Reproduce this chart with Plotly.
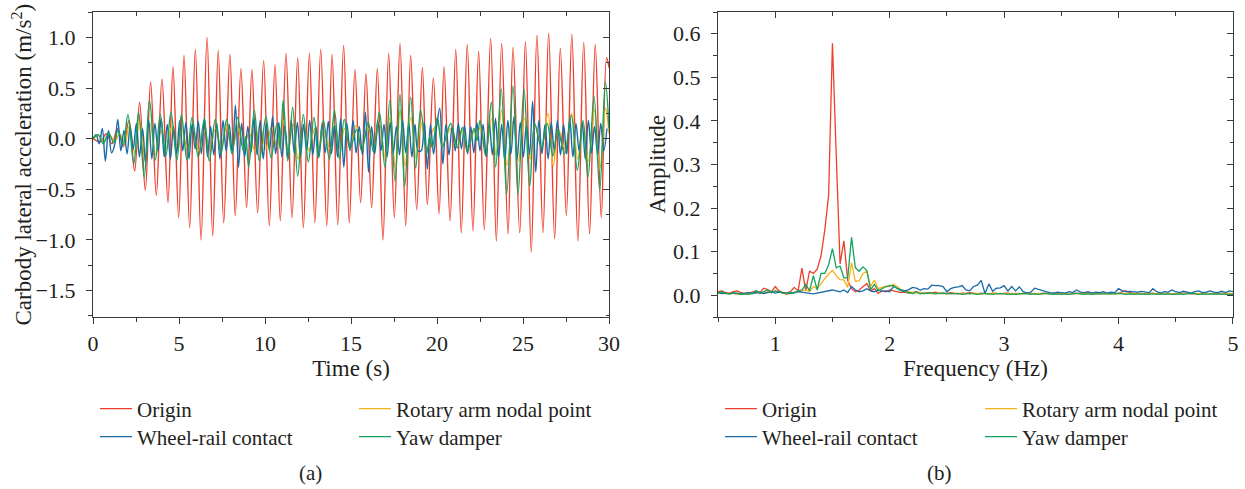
import plotly.graph_objects as go

# ---------------- (a) time histories: extreme points ----------------
origin_pts = [
    (0.00, 0.00), (0.44, -0.03), (0.77, 0.05), (1.10, -0.05), (1.43, 0.10), (1.76, -0.08),
    (2.09, 0.18), (2.42, -0.32), (2.71, 0.36), (3.04, -0.51), (3.35, 0.56), (3.68, -0.56),
    (4.01, 0.59), (4.36, -0.63), (4.65, 0.71), (4.98, -0.78), (5.29, 0.82), (5.62, -0.88),
    (5.95, 0.88), (6.28, -1.00), (6.63, 1.00), (6.96, -0.96), (7.28, 0.87), (7.60, -0.83),
    (7.96, 0.83), (8.27, -0.76), (8.60, 0.69), (8.93, -0.68), (9.24, 0.68), (9.57, -0.73),
    (9.92, 0.77), (10.25, -0.86), (10.58, 0.73), (10.89, -0.81), (11.22, 0.84), (11.57, -0.78),
    (11.90, 0.80), (12.23, -0.88), (12.58, 0.84), (12.90, -0.83), (13.24, 0.88), (13.59, -0.86),
    (13.90, 0.83), (14.23, -0.85), (14.57, 0.92), (14.90, -0.83), (15.23, 0.68), (15.56, -0.63),
    (15.87, 0.64), (16.20, -0.68), (16.53, 0.69), (16.86, -1.00), (17.19, 0.84), (17.52, -0.78),
    (17.85, 0.94), (18.18, -0.86), (18.47, 0.82), (18.82, -0.70), (19.15, 0.70), (19.44, -0.65),
    (19.79, 0.60), (20.12, -0.74), (20.41, 0.71), (20.76, -0.81), (21.09, 0.88), (21.41, -0.93),
    (21.76, 0.93), (22.09, -0.91), (22.42, 0.86), (22.75, -0.90), (23.12, 0.99), (23.45, -1.01),
    (23.76, 0.94), (24.13, -0.94), (24.42, 0.90), (24.81, -0.93), (25.14, 0.96), (25.48, -1.12),
    (25.81, 1.02), (26.16, -0.93), (26.49, 1.04), (26.84, -0.99), (27.17, 0.89), (27.52, -0.76),
    (27.84, 1.03), (28.19, -1.01), (28.53, 0.95), (28.87, -0.94), (29.20, 0.93), (29.55, -0.78),
    (29.86, 0.80), (30.00, 0.70),
]

yaw_pts = [
    (0.00, 0.00), (0.30, 0.04), (0.60, -0.05), (0.90, 0.06), (1.20, -0.04), (1.45, 0.08),
    (1.75, -0.06), (2.03, 0.24), (2.37, -0.25), (2.65, 0.26), (2.98, -0.38), (3.28, 0.38),
    (3.63, -0.21), (3.91, 0.24), (4.24, -0.17), (4.53, 0.26), (4.88, -0.21), (5.14, 0.24),
    (5.46, -0.21), (5.76, 0.21), (6.12, -0.18), (6.47, 0.19), (6.76, -0.22), (7.11, 0.19),
    (7.44, -0.15), (7.77, 0.19), (8.08, -0.15), (8.41, 0.21), (8.73, -0.12), (8.88, 0.02),
    (9.05, -0.28), (9.38, 0.28), (9.67, -0.22), (10.06, 0.22), (10.35, -0.19), (10.70, 0.15),
    (10.88, -0.10), (11.06, 0.38), (11.32, -0.22), (11.61, 0.31), (11.90, -0.37), (12.23, 0.24),
    (12.52, -0.23), (12.85, 0.21), (13.10, -0.19), (13.39, 0.18), (13.74, -0.20), (14.04, 0.28),
    (14.32, -0.20), (14.61, 0.19), (14.94, -0.10), (15.33, 0.09), (15.62, -0.12), (16.00, 0.16),
    (16.30, -0.13), (16.65, 0.26), (16.97, -0.28), (17.26, 0.38), (17.56, -0.42), (17.85, 0.44),
    (18.12, -0.47), (18.47, 0.41), (18.76, -0.29), (19.05, 0.28), (19.40, -0.15), (19.58, 0.02),
    (19.73, -0.09), (20.02, 0.21), (20.31, -0.08), (20.80, 0.15), (21.18, -0.09), (21.47, 0.11),
    (21.76, -0.13), (22.15, 0.10), (22.32, -0.02), (22.50, 0.18), (22.83, -0.17), (23.16, 0.36),
    (23.41, -0.28), (23.74, 0.49), (24.05, -0.55), (24.42, 0.52), (24.71, -0.55), (25.06, 0.49),
    (25.39, -0.47), (25.68, 0.15), (26.07, -0.09), (26.41, 0.15), (26.74, -0.17), (27.03, 0.08),
    (27.42, -0.15), (27.81, 0.23), (28.16, -0.31), (28.49, 0.18), (28.78, -0.38), (29.13, 0.42),
    (29.46, -0.51), (29.79, 0.56), (30.00, 0.10),
]

rotary_pts = [
    (0.00, 0.00), (0.35, 0.03), (0.65, -0.03), (0.95, 0.04), (1.25, -0.03), (1.55, 0.05),
    (1.85, -0.05), (2.10, 0.12), (2.42, -0.14), (2.70, 0.19), (3.02, -0.21), (3.32, 0.15),
    (3.65, -0.16), (3.95, 0.08), (4.25, -0.10), (4.57, 0.12), (4.90, -0.12), (5.18, 0.08),
    (5.50, -0.10), (5.80, 0.10), (6.15, -0.12), (6.48, 0.08), (6.80, -0.10), (7.12, 0.10),
    (7.45, -0.08), (7.78, 0.12), (8.10, -0.10), (8.42, 0.10), (8.75, -0.08), (9.08, 0.06),
    (9.40, -0.12), (9.70, 0.13), (10.05, -0.10), (10.38, 0.12), (10.70, -0.08), (11.05, 0.18),
    (11.35, -0.12), (11.63, 0.15), (11.92, -0.20), (12.25, 0.12), (12.55, -0.12), (12.88, 0.10),
    (13.15, -0.10), (13.42, 0.08), (13.76, -0.10), (14.06, 0.14), (14.35, -0.10), (14.63, 0.10),
    (14.96, -0.06), (15.30, 0.13), (15.62, -0.08), (16.00, 0.10), (16.32, -0.08), (16.66, 0.15),
    (16.98, -0.18), (17.28, 0.22), (17.58, -0.30), (17.86, 0.28), (18.14, -0.26), (18.48, 0.21),
    (18.78, -0.19), (19.07, 0.16), (19.40, -0.10), (19.75, 0.08), (20.05, 0.14), (20.33, -0.06),
    (20.80, 0.10), (21.18, -0.06), (21.48, 0.08), (21.78, -0.08), (22.15, 0.07), (22.50, 0.10),
    (22.85, -0.10), (23.18, 0.20), (23.43, -0.16), (23.76, 0.28), (24.07, -0.26), (24.44, 0.18),
    (24.73, -0.22), (25.08, 0.20), (25.41, -0.20), (25.70, 0.12), (26.08, -0.08), (26.45, 0.25),
    (26.76, -0.27), (27.05, 0.10), (27.44, -0.10), (27.83, 0.25), (28.18, -0.20), (28.50, 0.14),
    (28.80, -0.22), (29.15, 0.28), (29.47, -0.30), (29.80, 0.30), (30.00, 0.05),
]

wheel_step = 0.18
wheel_v = [
    0.00, 0.04, -0.05, 0.10, -0.22, 0.08, -0.14, -0.06, 0.19, -0.12,
    0.08, -0.15, 0.12, -0.10, 0.15, -0.18, 0.10, -0.25, 0.18, -0.20,
    0.15, -0.12, 0.20, -0.18, 0.14, -0.20, 0.12, -0.15, 0.18, -0.12,
    0.16, -0.20, 0.14, -0.10, 0.17, -0.15, 0.20, -0.18, 0.12, -0.16,
    0.15, -0.20, 0.18, -0.12, 0.14, -0.15, 0.33, -0.28, 0.15, -0.18,
    0.12, -0.14, 0.20, -0.16, 0.18, -0.20, 0.15, -0.12, 0.22, -0.15,
    0.16, -0.18, 0.12, -0.20, 0.18, -0.14, 0.16, -0.18, 0.14, -0.12,
    0.18, -0.16, 0.12, -0.18, 0.15, -0.14, 0.17, -0.15, 0.13, -0.18,
    0.20, -0.28, 0.15, -0.12, 0.18, -0.14, 0.12, -0.16, 0.26, -0.33,
    0.12, -0.15, 0.18, -0.12, 0.14, -0.18, 0.16, -0.14, 0.12, -0.16,
    0.18, -0.14, 0.15, -0.18, 0.14, -0.12, -0.12, 0.16, -0.30, 0.14,
    -0.15, 0.12, 0.30, -0.25, 0.14, -0.16, 0.12, -0.12, 0.15, -0.10,
    0.13, -0.15, 0.12, -0.14, 0.16, -0.12, 0.14, -0.18, 0.15, -0.16,
    0.20, -0.18, 0.14, -0.22, 0.18, -0.15, 0.22, -0.20, 0.16, -0.18,
    0.14, -0.16, 0.37, -0.33, 0.18, -0.15, 0.14, -0.20, 0.16, -0.12,
    0.18, -0.16, 0.14, -0.15, 0.20, -0.18, 0.15, -0.12, 0.16, -0.20,
    0.18, -0.14, 0.12, -0.16, 0.15, -0.12, 0.10,
]
wheel_t = [round(i * wheel_step, 2) for i in range(len(wheel_v))]

# ---------------- (b) amplitude spectra on a 1/30 Hz grid from 0.5 to 5 Hz ----------------
freq = [k / 30 for k in range(15, 151)]

amp_origin = [
    0.008, 0.010, 0.006, 0.005, 0.008, 0.010, 0.006, 0.004, 0.005, 0.007,
    0.010, 0.006, 0.016, 0.013, 0.008, 0.020, 0.010, 0.006, 0.005, 0.008,
    0.018, 0.010, 0.062, 0.010, 0.055, 0.050, 0.060, 0.090, 0.150, 0.230,
    0.578, 0.320, 0.072, 0.125, 0.034, 0.015, 0.008, 0.012, 0.020, 0.027,
    0.010, 0.015, 0.004, 0.010, 0.008, 0.012, 0.010, 0.008, 0.006, 0.007,
    0.005, 0.006, 0.008, 0.005, 0.004, 0.006, 0.005, 0.007, 0.004, 0.005,
    0.004, 0.006, 0.005, 0.003, 0.005, 0.004, 0.006, 0.004, 0.003, 0.005,
    0.004, 0.003, 0.005, 0.004, 0.003, 0.004, 0.005, 0.003, 0.004, 0.003,
    0.004, 0.005, 0.003, 0.004, 0.003, 0.005, 0.004, 0.003, 0.004, 0.003,
    0.005, 0.004, 0.003, 0.004, 0.005, 0.003, 0.004, 0.006, 0.004, 0.003,
    0.004, 0.005, 0.004, 0.003, 0.005, 0.004, 0.008, 0.010, 0.006, 0.004,
    0.005, 0.004, 0.003, 0.004, 0.005, 0.003, 0.004, 0.003, 0.004, 0.003,
    0.004, 0.003, 0.005, 0.004, 0.003, 0.004, 0.003, 0.004, 0.005, 0.003,
    0.004, 0.003, 0.004, 0.003, 0.004, 0.003,
]
amp_wheel = [
    0.006, 0.004, 0.005, 0.003, 0.004, 0.005, 0.003, 0.004, 0.006, 0.004,
    0.005, 0.007, 0.004, 0.006, 0.008, 0.005, 0.007, 0.006, 0.004, 0.005,
    0.006, 0.008, 0.007, 0.005, 0.004, 0.003, 0.005, 0.006, 0.008, 0.010,
    0.012, 0.010, 0.008, 0.012, 0.006, 0.020, 0.012, 0.008, 0.010, 0.015,
    0.010, 0.008, 0.012, 0.009, 0.010, 0.008, 0.020, 0.016, 0.012, 0.010,
    0.013, 0.018, 0.016, 0.012, 0.015, 0.014, 0.023, 0.022, 0.022, 0.020,
    0.008, 0.015, 0.018, 0.019, 0.022, 0.012, 0.010, 0.020, 0.023, 0.034,
    0.004, 0.026, 0.009, 0.016, 0.017, 0.022, 0.010, 0.020, 0.010, 0.019,
    0.008, 0.005, 0.007, 0.016, 0.013, 0.010, 0.008, 0.006, 0.005, 0.007,
    0.006, 0.005, 0.008, 0.006, 0.012, 0.007, 0.006, 0.008, 0.005, 0.007,
    0.006, 0.008, 0.005, 0.007, 0.006, 0.015, 0.010, 0.008, 0.009, 0.008,
    0.007, 0.009, 0.008, 0.006, 0.015, 0.008, 0.005, 0.008, 0.007, 0.012,
    0.008, 0.006, 0.009, 0.007, 0.005, 0.008, 0.010, 0.006, 0.007, 0.010,
    0.007, 0.006, 0.009, 0.006, 0.010, 0.008,
]
amp_rotary = [
    0.004, 0.006, 0.003, 0.005, 0.004, 0.002, 0.003, 0.002, 0.003, 0.004,
    0.006, 0.005, 0.004, 0.008, 0.005, 0.010, 0.007, 0.004, 0.002, 0.004,
    0.006, 0.008, 0.010, 0.012, 0.008, 0.020, 0.015, 0.028, 0.038, 0.048,
    0.057, 0.045, 0.036, 0.035, 0.018, 0.075, 0.032, 0.033, 0.050, 0.055,
    0.020, 0.035, 0.015, 0.018, 0.020, 0.020, 0.025, 0.020, 0.012, 0.010,
    0.008, 0.006, 0.005, 0.007, 0.004, 0.005, 0.003, 0.004, 0.005, 0.003,
    0.004, 0.003, 0.005, 0.004, 0.003, 0.004, 0.003, 0.005, 0.004, 0.003,
    0.004, 0.003, 0.004, 0.005, 0.003, 0.004, 0.003, 0.004, 0.003, 0.004,
    0.003, 0.004, 0.005, 0.003, 0.004, 0.003, 0.004, 0.003, 0.004, 0.003,
    0.004, 0.003, 0.004, 0.003, 0.004, 0.005, 0.003, 0.004, 0.003, 0.004,
    0.003, 0.004, 0.003, 0.004, 0.003, 0.004, 0.005, 0.003, 0.004, 0.003,
    0.004, 0.003, 0.004, 0.003, 0.004, 0.003, 0.004, 0.003, 0.004, 0.003,
    0.003, 0.004, 0.003, 0.004, 0.005, 0.003, 0.004, 0.003, 0.004, 0.003,
    0.004, 0.003, 0.004, 0.003, 0.004, 0.003,
]
amp_yaw = [
    0.005, 0.008, 0.004, 0.003, 0.006, 0.004, 0.002, 0.003, 0.002, 0.004,
    0.010, 0.004, 0.008, 0.012, 0.006, 0.010, 0.008, 0.005, 0.004, 0.006,
    0.005, 0.010, 0.012, 0.025, 0.010, 0.045, 0.012, 0.050, 0.050, 0.070,
    0.107, 0.063, 0.067, 0.040, 0.040, 0.133, 0.063, 0.055, 0.065, 0.057,
    0.013, 0.025, 0.010, 0.015, 0.020, 0.022, 0.022, 0.015, 0.010, 0.008,
    0.006, 0.004, 0.008, 0.003, 0.005, 0.004, 0.006, 0.003, 0.004, 0.005,
    0.003, 0.004, 0.003, 0.004, 0.002, 0.003, 0.004, 0.003, 0.002, 0.003,
    0.004, 0.003, 0.002, 0.003, 0.004, 0.003, 0.002, 0.003, 0.002, 0.003,
    0.004, 0.003, 0.002, 0.003, 0.002, 0.003, 0.004, 0.003, 0.002, 0.003,
    0.002, 0.003, 0.002, 0.003, 0.004, 0.003, 0.002, 0.003, 0.002, 0.003,
    0.003, 0.002, 0.003, 0.002, 0.003, 0.004, 0.003, 0.002, 0.003, 0.002,
    0.003, 0.002, 0.003, 0.002, 0.003, 0.002, 0.003, 0.002, 0.003, 0.002,
    0.002, 0.003, 0.002, 0.003, 0.004, 0.003, 0.002, 0.003, 0.002, 0.003,
    0.003, 0.002, 0.003, 0.002, 0.003, 0.002,
]

series_names = ["Origin", "Wheel-rail contact", "Rotary arm nodal point", "Yaw damper"]
series_colors = {
    "Origin": "#ee3f2c",
    "Wheel-rail contact": "#1a6aa6",
    "Rotary arm nodal point": "#f9b21b",
    "Yaw damper": "#13a35c",
}
time_data = {
    "Origin": ([p[0] for p in origin_pts], [p[1] for p in origin_pts]),
    "Wheel-rail contact": (wheel_t, wheel_v),
    "Rotary arm nodal point": ([p[0] for p in rotary_pts], [p[1] for p in rotary_pts]),
    "Yaw damper": ([p[0] for p in yaw_pts], [p[1] for p in yaw_pts]),
}
spec_data = {
    "Origin": amp_origin,
    "Wheel-rail contact": amp_wheel,
    "Rotary arm nodal point": amp_rotary,
    "Yaw damper": amp_yaw,
}

FONT = "Liberation Serif"
TXT = "#231f20"
AX = "#3a3a3a"
W, H = 1245, 489

# one legend per entry so each row can be placed exactly
legend_slots_a = {"Origin": (95, 409), "Wheel-rail contact": (95, 437),
                  "Rotary arm nodal point": (354, 409), "Yaw damper": (354, 437)}
legend_slots_b = {"Origin": (720, 409), "Wheel-rail contact": (720, 437),
                  "Rotary arm nodal point": (980, 409), "Yaw damper": (980, 437)}

fig = go.Figure()

legend_layout = {}
legend_count = [0]


def new_legend(slot):
    legend_count[0] += 1
    key = "legend" if legend_count[0] == 1 else f"legend{legend_count[0]}"
    legend_layout[key] = dict(
        x=slot[0] / W, y=(H - slot[1]) / H, xanchor="left", yanchor="middle",
        orientation="v", bgcolor="rgba(0,0,0,0)", borderwidth=0, itemwidth=32,
        font=dict(family=FONT, size=21, color=TXT), tracegroupgap=0,
        itemclick=False, itemdoubleclick=False,
    )
    return key


draw_order = ["Origin", "Rotary arm nodal point", "Wheel-rail contact", "Yaw damper"]
for name in draw_order:
    t, v = time_data[name]
    fig.add_trace(go.Scatter(
        x=t, y=v, mode="lines", name=name,
        line=dict(color=series_colors[name], width=1.4, shape="spline", smoothing=1.0),
        xaxis="x", yaxis="y", legend=new_legend(legend_slots_a[name]),
    ))
for name in draw_order:
    fig.add_trace(go.Scatter(
        x=freq, y=spec_data[name], mode="lines", name=name,
        line=dict(color=series_colors[name], width=1.3),
        xaxis="x2", yaxis="y2", legend=new_legend(legend_slots_b[name]),
    ))
# empty traces to activate the inward-tick overlay axes (top / right frame ticks)
fig.add_trace(go.Scatter(x=[], y=[], xaxis="x3", yaxis="y3", showlegend=False, hoverinfo="skip"))
fig.add_trace(go.Scatter(x=[], y=[], xaxis="x4", yaxis="y4", showlegend=False, hoverinfo="skip"))

dom_a = [93 / W, 609 / W]
dom_b = [718 / W, 1233 / W]
dom_y = [(H - 317) / H, (H - 12) / H]
range_ta = [0, 30.0001]
range_ya = [-1.76, 1.25]
range_fb = [0.5, 5.0001]
range_yb = [-0.05, 0.65]

tickfont = dict(family=FONT, size=22, color=TXT)
titlefont = dict(family=FONT, size=23, color=TXT)


def main_axis(domain, rng, dtick, mdtick, title, fmt=None, anchor=None, standoff=None, lstand=0):
    d = dict(
        domain=domain, range=rng, dtick=dtick, tick0=0, ticks="outside", ticklen=6,
        tickwidth=1.3, tickcolor=AX, showline=True, linecolor=AX, linewidth=1.4,
        mirror=True, showgrid=False, zeroline=False, tickfont=tickfont,
        ticklabelstandoff=lstand,
        minor=dict(ticks="outside", ticklen=3.5, dtick=mdtick, tickwidth=1.1, tickcolor=AX, showgrid=False),
        title=dict(text=title, font=titlefont), automargin=False, anchor=anchor,
    )
    if standoff is not None:
        d["title"]["standoff"] = standoff
    if fmt:
        d["tickformat"] = fmt
    return d


def inner_axis(overlay, side, rng, dtick, mdtick, anchor):
    return dict(
        overlaying=overlay, side=side, range=rng, dtick=dtick, tick0=0, ticks="inside",
        ticklen=6, tickwidth=1.3, tickcolor=AX, showline=False, showgrid=False,
        zeroline=False, showticklabels=False, anchor=anchor,
        minor=dict(ticks="inside", ticklen=3.5, dtick=mdtick, tickwidth=1.1, tickcolor=AX, showgrid=False),
    )


fig.update_layout(
    width=W, height=H, margin=dict(l=0, r=0, t=0, b=0),
    paper_bgcolor="white", plot_bgcolor="white",
    font=dict(family=FONT, color=TXT, size=20),
    xaxis=main_axis(dom_a, range_ta, 5, 2.5, "Time (s)", anchor="y", standoff=1, lstand=0),
    yaxis=main_axis(dom_y, range_ya, 0.5, 0.25, "", fmt=".1f", anchor="x", lstand=6),
    xaxis2=main_axis(dom_b, range_fb, 1, 0.5, "Frequency (Hz)", anchor="y2", standoff=1, lstand=0),
    yaxis2=main_axis(dom_y, range_yb, 0.1, 0.05, "", fmt=".1f", anchor="x2", lstand=6),
    xaxis3=inner_axis("x", "top", range_ta, 5, 2.5, "y"),
    yaxis3=inner_axis("y", "right", range_ya, 0.5, 0.25, "x"),
    xaxis4=inner_axis("x2", "top", range_fb, 1, 0.5, "y2"),
    yaxis4=inner_axis("y2", "right", range_yb, 0.1, 0.05, "x2"),
    showlegend=True,
    **legend_layout,
)

# vertical y-axis titles, centred on the plot areas
y_mid = (H - (12 + 317) / 2) / H
for txt, xc in (("Carbody lateral acceleration (m/s<sup>2</sup>)", 22),
                ("Amplitude", 657)):
    fig.add_annotation(text=txt, x=xc / W, y=y_mid, xref="paper", yref="paper",
                       textangle=-90, showarrow=False, font=titlefont,
                       xanchor="center", yanchor="middle")

for txt, xc in (("(a)", 310), ("(b)", 940)):
    fig.add_annotation(text=txt, x=xc / W, y=(H - 473) / H, xref="paper", yref="paper",
                       showarrow=False, font=dict(family=FONT, size=21, color=TXT),
                       xanchor="center", yanchor="middle")

fig.write_html("out.html", config={"displayModeBar": False},
               post_script="document.body.style.margin='0px';")
